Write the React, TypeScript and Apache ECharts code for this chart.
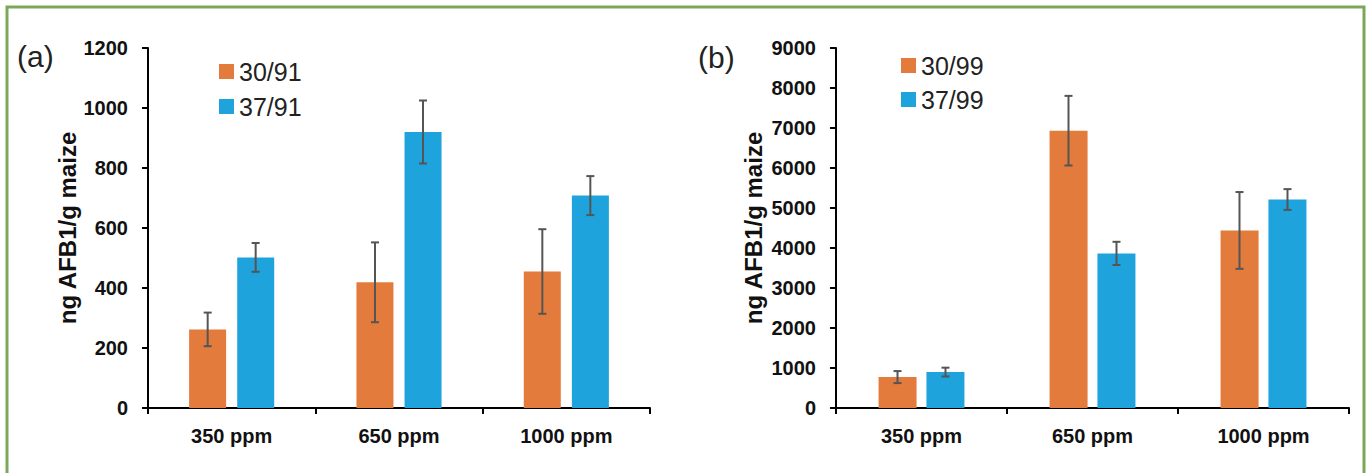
import React, { useEffect, useRef } from "react";
import * as echarts from "echarts";

const categories = ["350 ppm", "650 ppm", "1000 ppm"];

const seriesA30Name = "30/91";
const seriesA37Name = "37/91";
const a30 = [262, 419, 455];
const a30Err = [56, 133, 141];
const a37 = [502, 920, 708];
const a37Err = [48, 105, 65];

const seriesB30Name = "30/99";
const seriesB37Name = "37/99";
const b30 = [773, 6933, 4439];
const b30Err = [150, 870, 960];
const b37 = [898, 3865, 5212];
const b37Err = [110, 290, 260];

const yNameText = "ng AFB1/g maize";
const panelLabels = ["(a)", "(b)"];

const ORANGE = "#E27B3B";
const BLUE = "#1EA3DC";
const FONT = "'Liberation Sans', Arial, sans-serif";

function errData(vals: number[], errs: number[]) {
  return vals.map((v, i) => [i, v - errs[i], v + errs[i]]);
}

function errSeries(name: string, vals: number[], errs: number[], axisIdx: number, offset: number) {
  return {
    type: "custom",
    name: name + " err",
    xAxisIndex: axisIdx,
    yAxisIndex: axisIdx,
    data: errData(vals, errs),
    encode: { x: 0, y: [1, 2] },
    z: 10,
    clip: false,
    silent: true,
    renderItem: (params: any, api: any) => {
      const c = api.value(0);
      const lo = api.coord([c, api.value(1)]);
      const hi = api.coord([c, api.value(2)]);
      const x = lo[0] + offset;
      const hw = 4;
      const style = { stroke: "#555555", lineWidth: 2 };
      return {
        type: "group",
        children: [
          { type: "line", shape: { x1: x, y1: lo[1], x2: x, y2: hi[1] }, style },
          { type: "line", shape: { x1: x - hw, y1: lo[1], x2: x + hw, y2: lo[1] }, style },
          { type: "line", shape: { x1: x - hw, y1: hi[1], x2: x + hw, y2: hi[1] }, style },
        ],
      };
    },
  };
}

function xAxisCfg(gridIndex: number) {
  return {
    type: "category",
    gridIndex,
    data: categories,
    axisLine: { show: true, lineStyle: { color: "#000", width: 2 } },
    axisTick: { show: true, length: 6, lineStyle: { color: "#000", width: 2 }, alignWithLabel: false },
    axisLabel: { color: "#111", fontSize: 20, fontWeight: "bold", fontFamily: FONT, margin: 18 },
    splitLine: { show: false },
  };
}

function yAxisCfg(gridIndex: number, max: number, interval: number, nameGap: number) {
  return {
    type: "value",
    gridIndex,
    min: 0,
    max,
    interval,
    name: yNameText,
    nameLocation: "middle",
    nameGap,
    nameTextStyle: { color: "#111", fontSize: 24, fontWeight: "bold", fontFamily: FONT },
    axisLine: { show: true, lineStyle: { color: "#000", width: 2 } },
    axisTick: { show: true, length: 6, lineStyle: { color: "#000", width: 2 } },
    axisLabel: {
      color: "#111",
      fontSize: 20,
      fontWeight: "bold",
      fontFamily: FONT,
      margin: 20,
      formatter: (v: number) => String(v),
    },
    splitLine: { show: false },
  };
}

export default function App() {
  const ref = useRef<HTMLDivElement>(null);
  useEffect(() => {
    if (!ref.current) return;
    const chart = echarts.init(ref.current, undefined, { renderer: "svg" });
    const option: any = {
      animation: false,
      backgroundColor: "#ffffff",
      grid: [
        { left: 148, top: 48, width: 502, height: 360 },
        { left: 836, top: 48, width: 513, height: 360 },
      ],
      xAxis: [xAxisCfg(0), xAxisCfg(1)],
      yAxis: [yAxisCfg(0, 1200, 200, 66), yAxisCfg(1, 9000, 1000, 71)],
      legend: [
        {
          data: [seriesA30Name, seriesA37Name],
          orient: "vertical",
          left: 214,
          top: 54,
          itemWidth: 15,
          itemHeight: 15,
          itemGap: 10,
          icon: "rect",
          textStyle: { fontSize: 25, color: "#222", fontFamily: FONT },
        },
        {
          data: [seriesB30Name, seriesB37Name],
          orient: "vertical",
          left: 896,
          top: 48,
          itemWidth: 15,
          itemHeight: 15,
          itemGap: 9,
          icon: "rect",
          textStyle: { fontSize: 25, color: "#222", fontFamily: FONT },
        },
      ],
      graphic: [
        {
          type: "rect",
          shape: { x: 7, y: 7, width: 1357, height: 520 },
          style: { fill: "none", stroke: "#7AA75A", lineWidth: 3 },
          silent: true,
        },
        {
          type: "text",
          x: 17,
          y: 56,
          style: { text: panelLabels[0], fontSize: 30, fontFamily: FONT, fill: "#222", textVerticalAlign: "middle" },
        },
        {
          type: "text",
          x: 698,
          y: 57,
          style: { text: panelLabels[1], fontSize: 30, fontFamily: FONT, fill: "#222", textVerticalAlign: "middle" },
        },
      ],
      series: [
        { type: "bar", name: seriesA30Name, xAxisIndex: 0, yAxisIndex: 0, data: a30, barWidth: 37, barGap: "30%", itemStyle: { color: ORANGE } },
        { type: "bar", name: seriesA37Name, xAxisIndex: 0, yAxisIndex: 0, data: a37, barWidth: 37, barGap: "30%", itemStyle: { color: BLUE } },
        { type: "bar", name: seriesB30Name, xAxisIndex: 1, yAxisIndex: 1, data: b30, barWidth: 38, barGap: "26%", itemStyle: { color: ORANGE } },
        { type: "bar", name: seriesB37Name, xAxisIndex: 1, yAxisIndex: 1, data: b37, barWidth: 38, barGap: "26%", itemStyle: { color: BLUE } },
        errSeries(seriesA30Name, a30, a30Err, 0, -24),
        errSeries(seriesA37Name, a37, a37Err, 0, 24),
        errSeries(seriesB30Name, b30, b30Err, 1, -24),
        errSeries(seriesB37Name, b37, b37Err, 1, 24),
      ],
    };
    chart.setOption(option);
    return () => chart.dispose();
  }, []);
  return (
    <div
      ref={ref}
      style={{ position: "absolute", left: 0, top: 0, width: 1369, height: 473 }}
    />
  );
}
